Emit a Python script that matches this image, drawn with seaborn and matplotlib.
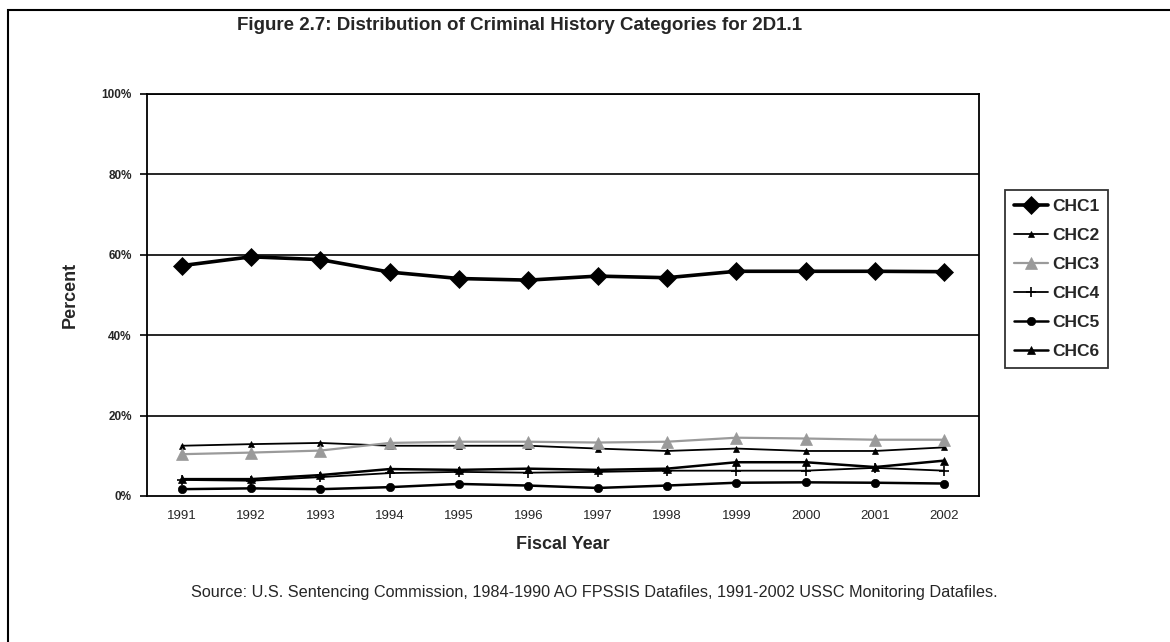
import numpy as np
import pandas as pd
import matplotlib
matplotlib.use("Agg")
import matplotlib.pyplot as plt
import seaborn as sns
from matplotlib.patches import Rectangle
from matplotlib.ticker import FixedLocator, PercentFormatter

# Values (percent of cases)
years = [1991, 1992, 1993, 1994, 1995, 1996, 1997, 1998, 1999, 2000, 2001, 2002]
chc1 = [57.3, 59.5, 58.8, 55.7, 54.1, 53.7, 54.7, 54.3, 55.9, 55.9, 55.9, 55.8]
chc2 = [12.5, 12.9, 13.2, 12.5, 12.5, 12.5, 11.8, 11.2, 11.8, 11.2, 11.2, 12.1]
chc3 = [10.4, 10.8, 11.3, 13.2, 13.5, 13.5, 13.3, 13.5, 14.5, 14.3, 14.0, 14.0]
chc4 = [4.0, 3.8, 4.7, 5.7, 6.0, 5.8, 6.0, 6.3, 6.3, 6.3, 7.0, 6.3]
chc5 = [1.7, 1.9, 1.7, 2.2, 3.0, 2.6, 2.0, 2.6, 3.3, 3.4, 3.3, 3.1]
chc6 = [4.2, 4.2, 5.2, 6.7, 6.5, 6.8, 6.5, 6.8, 8.4, 8.4, 7.2, 8.8]
categories = ["CHC1", "CHC2", "CHC3", "CHC4", "CHC5", "CHC6"]

title = "Figure 2.7: Distribution of Criminal History Categories for 2D1.1"
source = ("Source: U.S. Sentencing Commission, 1984-1990 AO FPSSIS Datafiles, "
          "1991-2002 USSC Monitoring Datafiles.")

df = pd.DataFrame({"year": years, "CHC1": chc1, "CHC2": chc2, "CHC3": chc3,
                   "CHC4": chc4, "CHC5": chc5, "CHC6": chc6})
df_melt = pd.melt(df, id_vars=["year"], value_vars=categories,
                  var_name="category", value_name="pct")

sns.set_style("white")
plt.rcParams["font.family"] = ["Liberation Sans", "DejaVu Sans"]

fig = plt.figure(figsize=(11.7, 6.42), dpi=100)
ax = fig.add_axes([147 / 1170, 1 - 496 / 642, (979 - 147) / 1170, (496 - 94) / 642])

# per-series look: colour, marker, marker size, line width
styles = {
    "CHC1": ("black", "D", 9, 2.6),
    "CHC2": ("black", "^", 4, 1.3),
    "CHC3": ("#9a9a9a", "^", 9, 1.6),
    "CHC4": ("black", "+", 7, 1.3),
    "CHC5": ("black", "o", 6, 1.8),
    "CHC6": ("black", "^", 6, 1.8),
}

for cat in categories:
    color, marker, ms, lw = styles[cat]
    sub = df_melt[df_melt["category"] == cat]
    sns.lineplot(data=sub, x="year", y="pct", ax=ax, color=color, marker=marker,
                 markersize=ms, linewidth=lw, markeredgecolor=color,
                 markerfacecolor=color, markeredgewidth=1.2 if marker == "+" else 0.5,
                 label=cat, zorder=3)

ax.set_xlim(1990.5, 2002.5)
ax.set_ylim(0, 100)

# horizontal gridlines like the Excel chart
for v in [20, 40, 60, 80, 100]:
    ax.axhline(v, color="black", linewidth=1.2, zorder=1)

ax.yaxis.set_major_locator(FixedLocator([0, 20, 40, 60, 80, 100]))
ax.yaxis.set_major_formatter(PercentFormatter(decimals=0))
ax.set_xticks(years)
ax.set_xticklabels([str(y) for y in years])
ax.xaxis.set_minor_locator(FixedLocator(np.arange(1990.5, 2003, 1.0)))
ax.tick_params(axis="x", which="major", length=0, pad=10, labelsize=9.5)
ax.tick_params(axis="x", which="minor", length=5, width=1.2, direction="out", color="black")
ax.tick_params(axis="y", which="major", length=5, width=1.2, direction="out",
               color="black", labelsize=8.5, pad=6)
for lab in ax.get_yticklabels():
    lab.set_fontweight("bold")
ax.tick_params(axis="both", bottom=True, left=True)

for sp in ax.spines.values():
    sp.set_visible(True)
    sp.set_color("black")
    sp.set_linewidth(1.3)

ax.set_xlabel("Fiscal Year", fontsize=13, fontweight="bold", labelpad=10)
ax.set_ylabel("Percent", fontsize=13, fontweight="bold", labelpad=16)

ax.legend_.remove()
handles, labels = ax.get_legend_handles_labels()
leg = fig.legend(handles, labels, loc="upper left",
                 bbox_to_anchor=(1005 / 1170, 1 - 190 / 642), borderaxespad=0,
                 frameon=True, fancybox=False, edgecolor="black",
                 handlelength=2.0, handletextpad=0.2, labelspacing=0.8,
                 borderpad=0.5, prop={"weight": "bold", "size": 12.5})
leg.get_frame().set_linewidth(1.3)

fig.text(520 / 1170, 1 - 25 / 642, title, ha="center", va="center",
         fontsize=13.5, fontweight="bold")
fig.text(594 / 1170, 1 - 592 / 642, source, ha="center", va="center", fontsize=11.7)

# outer frame of the figure
fig.add_artist(Rectangle((8 / 1170, -0.05), 1.2, 1 - 10 / 642 + 0.05,
                         transform=fig.transFigure, fill=False,
                         edgecolor="black", linewidth=1.5))

fig.savefig("out.png", dpi=100)
